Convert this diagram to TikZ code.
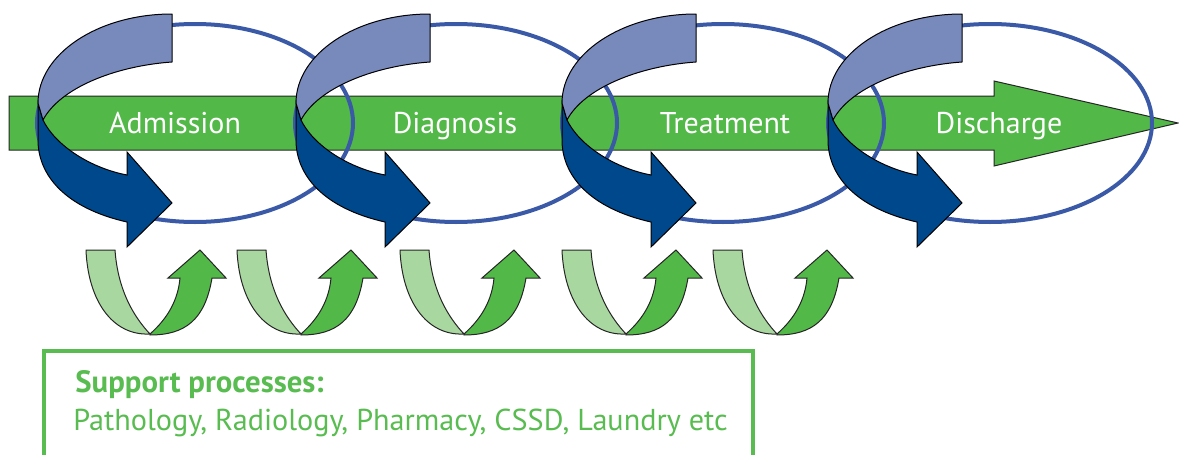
\documentclass[tikz,border=0pt]{standalone}
\usepackage{fontspec}
\setmainfont{PT Sans}
\definecolor{bargreen}{RGB}{82,184,72}
\definecolor{ellblue}{RGB}{58,90,168}
\definecolor{riblight}{RGB}{120,137,188}
\definecolor{ribdark}{RGB}{0,72,140}
\definecolor{ulight}{RGB}{169,215,160}
\definecolor{udark}{RGB}{82,184,72}
\definecolor{boxgreen}{RGB}{88,188,80}
\begin{document}
\begin{tikzpicture}[x=0.5pt,y=-0.5pt,
  bar/.style={fill=bargreen, draw=black!85, line width=0.5pt},
  cyc/.style={draw=ellblue, line width=2pt},
  ribL/.style={fill=riblight, draw=black, line width=0.5pt, line join=round},
  ribD/.style={fill=ribdark, draw=black, line width=0.5pt, line join=miter},
  uL/.style={fill=ulight, draw=black!85, line width=0.5pt, line join=round},
  uD/.style={fill=udark, draw=black!85, line width=0.5pt, line join=miter},
  lbl/.style={text=white, inner sep=0pt, anchor=base, font=\fontsize{15}{18}\selectfont},
  boxline/.style={draw=boxgreen, line width=1.6pt},
  sup/.style={text=boxgreen, inner sep=0pt, anchor=base west, font=\fontsize{15.1}{18}\selectfont}]
\useasboundingbox (0,0) rectangle (1179,455);
% main green arrow
\draw[bar] (9,96) -- (994,96) -- (994,81) -- (1178,123) -- (994,166) -- (994,150) -- (9,150) -- cycle;
% cycle ellipses
\draw[cyc] (195,123) ellipse [x radius=158, y radius=99];
\draw[cyc] (456,123) ellipse [x radius=161, y radius=99];
\draw[cyc] (723,123) ellipse [x radius=161, y radius=99];
\draw[cyc] (990,123) ellipse [x radius=162, y radius=99];
% labels
\node[lbl] (adm) at (175,133) {Admission};
\node[lbl] (dia) at (455,133) {Diagnosis};
\node[lbl] (tre) at (725,133) {Treatment};
\node[lbl] (dis) at (999,133) {Discharge};
% ribbons
\foreach \dx in {0,258,524,790}{
  \begin{scope}[shift={(\dx,0)}]
    \draw[ribD] (38,103) -- (43,120) .. controls (55,145) and (90,168) .. (127,175)
      -- (127,152) -- (172,203) -- (127,247) -- (127,222)
      .. controls (65,208) and (38,175) .. (38,140) -- cycle;
    \draw[ribL] (172,14) .. controls (98,14) and (38,54) .. (38,103) -- (43,120)
      .. controls (60,88) and (115,66) .. (172,62) -- cycle;
  \end{scope}
}
% support U-arrows
\foreach \dx in {0,151,314,476,627}{
  \begin{scope}[shift={(\dx,0)}]
    \draw[uL] (86,250) -- (115,250) .. controls (118,292) and (135,318) .. (150,334)
      .. controls (112,336) and (88,300) .. (86,250) -- cycle;
    \draw[uD] (150,334) .. controls (168,318) and (178,300) .. (180,278) -- (168,278)
      -- (200,250) -- (226,278) -- (212,278) .. controls (205,320) and (185,335) .. (150,335) -- cycle;
  \end{scope}
}
% support box
\draw[boxline] (44,458) -- (44,351) -- (753,351) -- (753,458);
\node[sup, font=\fontsize{15.4}{18}\selectfont\bfseries] (sph) at (75,392) {Support processes:};
\node[sup] (spl) at (73,430) {Pathology, Radiology, Pharmacy, CSSD, Laundry etc};
\end{tikzpicture}
\end{document}
